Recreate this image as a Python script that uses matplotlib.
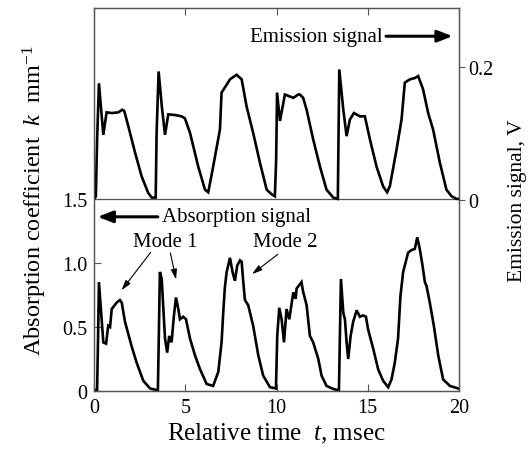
import matplotlib
matplotlib.use("Agg")
import matplotlib.pyplot as plt

# emission signal (upper trace, right axis, V)
emis_t = [0.0, 0.1, 0.17, 0.27, 0.51, 0.69, 0.97, 1.33, 1.55, 1.66,
          1.88, 2.25, 2.61, 2.97, 3.16, 3.38, 3.43, 3.54, 3.72, 3.89,
          4.07, 4.44, 4.80, 4.98, 5.26, 5.71, 6.08, 6.26, 6.53, 6.90,
          6.99, 7.27, 7.45, 7.81, 8.09, 8.36, 8.72, 9.09, 9.46, 9.73,
          9.91, 9.98, 10.03, 10.19, 10.46, 10.92, 11.19, 11.28, 11.46, 11.65,
          12.01, 12.38, 12.74, 13.11, 13.36, 13.44, 13.66, 13.84, 14.02, 14.24,
          14.57, 14.84, 15.12, 15.48, 15.84, 16.06, 16.21, 16.58, 16.85, 17.03,
          17.31, 17.58, 17.76, 18.03, 18.31, 18.58, 18.95, 19.31, 19.59, 19.86,
          20.0]
emis_v = [0.0, 0.005, 0.09, 0.176, 0.098, 0.132, 0.131, 0.132, 0.136, 0.134,
          0.111, 0.071, 0.035, 0.010, 0.003, 0.003, 0.10, 0.194, 0.14, 0.098,
          0.129, 0.128, 0.126, 0.123, 0.101, 0.05, 0.015, 0.011, 0.05, 0.106,
          0.162, 0.174, 0.182, 0.189, 0.182, 0.141, 0.101, 0.056, 0.015, 0.008,
          0.005, 0.06, 0.162, 0.119, 0.159, 0.154, 0.159, 0.159, 0.154, 0.136,
          0.091, 0.05, 0.015, 0.003, 0.001, 0.197, 0.136, 0.096, 0.121, 0.131,
          0.126, 0.126, 0.091, 0.05, 0.02, 0.011, 0.02, 0.076, 0.121, 0.177,
          0.182, 0.184, 0.187, 0.167, 0.131, 0.106, 0.056, 0.015, 0.005, 0.001,
          0.001]

# absorption coefficient (lower trace, left axis, mm^-1)
abs_t = [0.0, 0.17, 0.22, 0.27, 0.51, 0.66, 0.78, 0.88, 0.97, 1.24,
         1.42, 1.52, 1.70, 2.06, 2.34, 2.70, 3.07, 3.50, 3.56, 3.61,
         3.71, 3.89, 4.01, 4.12, 4.25, 4.38, 4.49, 4.62, 4.71, 4.89,
         5.04, 5.26, 5.53, 5.81, 6.17, 6.53, 6.81, 6.99, 7.08, 7.17,
         7.27, 7.45, 7.59, 7.72, 7.85, 8.00, 8.09, 8.18, 8.27, 8.45,
         8.72, 9.00, 9.27, 9.64, 9.97, 10.04, 10.15, 10.28, 10.41, 10.55,
         10.70, 10.92, 11.05, 11.10, 11.37, 11.45, 11.65, 11.83, 12.01, 12.29,
         12.47, 12.74, 13.11, 13.42, 13.53, 13.66, 13.75, 13.84, 13.93, 14.06,
         14.20, 14.39, 14.57, 14.75, 14.90, 15.02, 15.30, 15.57, 15.84, 16.12,
         16.30, 16.48, 16.66, 16.79, 16.94, 17.21, 17.39, 17.58, 17.71, 17.85,
         18.00, 18.13, 18.22, 18.40, 18.62, 18.86, 19.13, 19.50, 19.95]
abs_k = [0.01, 0.01, 0.4, 0.85, 0.38, 0.37, 0.51, 0.50, 0.64, 0.69,
         0.71, 0.69, 0.54, 0.35, 0.22, 0.08, 0.02, 0.005, 0.5, 0.93,
         0.875, 0.41, 0.30, 0.43, 0.38, 0.59, 0.73, 0.64, 0.56, 0.58,
         0.56, 0.41, 0.28, 0.17, 0.055, 0.04, 0.15, 0.38, 0.61, 0.81,
         0.93, 1.04, 0.93, 0.86, 0.98, 1.02, 1.01, 0.85, 0.71, 0.67,
         0.51, 0.28, 0.12, 0.03, 0.02, 0.43, 0.65, 0.56, 0.38, 0.64,
         0.56, 0.77, 0.72, 0.80, 0.85, 0.78, 0.67, 0.43, 0.38, 0.25,
         0.12, 0.04, 0.016, 0.005, 0.875, 0.61, 0.56, 0.38, 0.25, 0.43,
         0.54, 0.63, 0.58, 0.59, 0.58, 0.48, 0.33, 0.17, 0.08, 0.03,
         0.09, 0.22, 0.41, 0.74, 0.93, 1.08, 1.10, 1.11, 1.20, 1.11,
         0.98, 0.85, 0.82, 0.69, 0.51, 0.28, 0.09, 0.04, 0.02]

x_ticks = [0, 5, 10, 15, 20]
k_ticks = [0, 0.5, 1.0, 1.5]
k_labels = ["0", "0.5", "1.0", "1.5"]
v_ticks = [0, 0.2]
v_labels = ["0", "0.2"]


if __name__ == "__main__":

    plt.rcParams["font.family"] = "Liberation Serif"
    plt.rcParams["mathtext.fontset"] = "custom"
    plt.rcParams["mathtext.rm"] = "Liberation Serif"
    plt.rcParams["mathtext.it"] = "Liberation Serif:italic"

    fig = plt.figure(figsize=(5.32, 4.52), dpi=100)
    ax = fig.add_axes([0.1767, 0.1327, 0.6861, 0.8473])
    ax2 = ax.twinx()

    ax.plot(abs_t, abs_k, color="black", lw=1.9, solid_joinstyle="miter")
    ax2.plot(emis_t, emis_v, color="black", lw=1.9, solid_joinstyle="miter")

    # divider between the two traces
    ax.axhline(1.5, color="#555555", lw=0.9)

    ax.set_xlim(0, 20)
    ax.set_ylim(0, 2.99)
    ax2.set_ylim(-0.29, 0.29)

    ax.set_xticks(x_ticks)
    ax.set_xticklabels([str(x) for x in x_ticks])
    ax.set_yticks(k_ticks)
    ax.set_yticklabels(k_labels)
    ax2.set_yticks(v_ticks)
    ax2.set_yticklabels(v_labels)

    ax.tick_params(axis="both", direction="in", length=5, width=0.8,
                   labelsize=14.5, top=True, color="#555555", pad=5)
    ax2.tick_params(axis="y", direction="out", length=4, width=0.8,
                    labelsize=14.5, color="#555555", pad=3)

    for a in (ax, ax2):
        for s in a.spines.values():
            s.set_color("#555555")
            s.set_linewidth(0.9)

    ax.set_xlabel("Relative time  $t$, msec", fontsize=18, labelpad=3)
    ax.set_ylabel("Absorption coefficient  $k$  mm$^{-1}$", fontsize=17.5,
                  labelpad=9)
    ax2.set_ylabel("Emission signal, V", fontsize=15.5, labelpad=10)

    # signal direction arrows
    ax.text(15.8, 2.77, "Emission signal", fontsize=15, ha="right", va="center")
    ax.annotate("", xy=(19.8, 2.77), xytext=(15.85, 2.77),
                arrowprops=dict(arrowstyle="-|>,head_length=0.9,head_width=0.35",
                                lw=2.2, color="black"))
    ax.text(3.75, 1.36, "Absorption signal", fontsize=15, ha="left", va="center")
    ax.annotate("", xy=(0.05, 1.36), xytext=(3.65, 1.36),
                arrowprops=dict(arrowstyle="-|>,head_length=0.9,head_width=0.35",
                                lw=2.2, color="black"))

    # mode labels
    ax.text(3.9, 1.17, "Mode 1", fontsize=15, ha="center", va="center")
    ax.annotate("", xy=(1.42, 0.77), xytext=(3.2, 1.1),
                arrowprops=dict(arrowstyle="-|>,head_length=0.6,head_width=0.18",
                                lw=0.8, color="black"))
    ax.annotate("", xy=(4.53, 0.85), xytext=(4.15, 1.1),
                arrowprops=dict(arrowstyle="-|>,head_length=0.6,head_width=0.18",
                                lw=0.8, color="black"))
    ax.text(10.46, 1.17, "Mode 2", fontsize=15, ha="center", va="center")
    ax.annotate("", xy=(8.54, 0.90), xytext=(10.19, 1.08),
                arrowprops=dict(arrowstyle="-|>,head_length=0.6,head_width=0.18",
                                lw=0.8, color="black"))

    fig.savefig("out.png", dpi=100)
